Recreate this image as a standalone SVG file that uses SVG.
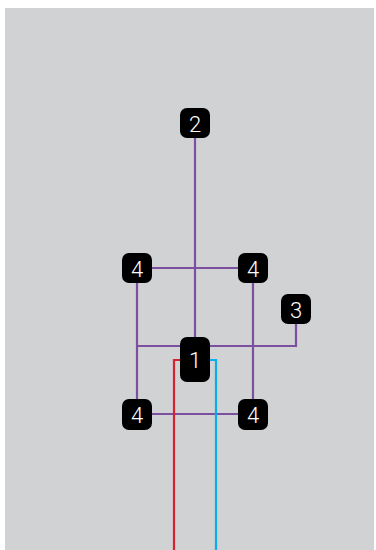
<svg xmlns="http://www.w3.org/2000/svg" width="376" height="550" viewBox="0 0 376 550">
<style>
.bg{fill:#d1d2d4}
.n{fill:#000}
.t{fill:#fff;font-family:Roboto,"Liberation Sans",Arial,sans-serif;font-weight:300;font-size:22px;text-anchor:middle;dominant-baseline:central}
.p{stroke:#7d4fa1;stroke-width:2.2;fill:none}
.r{stroke:#d9222f;stroke-width:2.2;fill:none}
.b{stroke:#08aeea;stroke-width:2.2;fill:none}
</style>
<rect class="bg" x="5" y="8" width="369" height="542"/>
<g id="connectors">
<path class="p" d="M195 138V337"/>
<path class="p" d="M152 268H238"/>
<path class="p" d="M137 283V399"/>
<path class="p" d="M253 283V399"/>
<path class="p" d="M137 346H296V324"/>
<path class="p" d="M152 414H238"/>
<path class="r" d="M180 360H174V550"/>
<path class="b" d="M210 360H216V550"/>
</g>
<g id="node2"><rect class="n" x="180" y="108" width="30" height="30" rx="7"/><text class="t" x="195" y="124">2</text></g>
<g id="node4a"><rect class="n" x="122" y="253" width="30" height="30" rx="7"/><text class="t" x="137" y="269">4</text></g>
<g id="node4b"><rect class="n" x="238" y="253" width="30" height="30" rx="7"/><text class="t" x="253" y="269">4</text></g>
<g id="node3"><rect class="n" x="281" y="294" width="30" height="30" rx="7"/><text class="t" x="296" y="310">3</text></g>
<g id="node1"><rect class="n" x="180" y="337" width="30" height="45" rx="7"/><text class="t" x="195" y="360">1</text></g>
<g id="node4c"><rect class="n" x="122" y="399" width="30" height="31" rx="7"/><text class="t" x="137" y="415">4</text></g>
<g id="node4d"><rect class="n" x="238" y="399" width="30" height="31" rx="7"/><text class="t" x="253" y="415">4</text></g>
</svg>
